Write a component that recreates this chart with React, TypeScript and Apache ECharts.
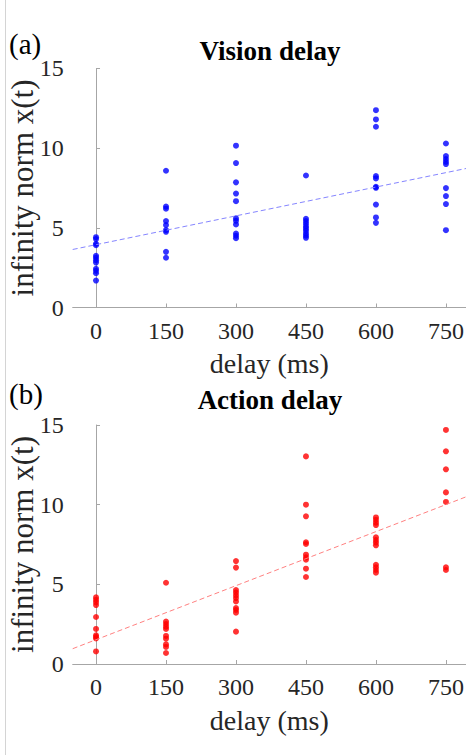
import React, { useEffect, useRef } from "react";
import * as echarts from "echarts";

const delays = [0, 150, 300, 450, 600, 750];
const tickValues = [0, 150, 300, 450, 600, 750];

const vision0 = [4.41, 4.29, 4.0, 3.91, 3.24, 3.12, 2.97, 2.82, 2.43, 2.3, 2.15, 1.69];
const vision150 = [8.58, 6.33, 6.2, 5.42, 5.17, 4.85, 4.75, 3.49, 3.12];
const vision300 = [10.15, 9.06, 7.85, 7.15, 6.67, 5.59, 5.44, 5.21, 4.64, 4.5, 4.35];
const vision450 = [8.28, 5.56, 5.42, 5.27, 5.1, 4.96, 4.81, 4.64, 4.5, 4.37];
const vision600 = [12.38, 11.8, 11.34, 8.24, 8.1, 7.57, 7.51, 6.46, 5.65, 5.31];
const vision750 = [10.29, 9.5, 9.31, 9.14, 9.0, 7.49, 6.99, 6.49, 4.85];

const action0 = [4.18, 4.02, 3.87, 3.7, 2.95, 2.2, 1.8, 1.7, 1.6, 0.79];
const action150 = [5.1, 2.66, 2.51, 2.34, 2.2, 1.76, 1.59, 1.23, 1.07, 0.69];
const action300 = [6.46, 6.05, 4.64, 4.48, 4.31, 4.14, 3.93, 3.51, 3.39, 3.22, 2.03];
const action450 = [13.03, 10.0, 9.27, 7.64, 7.53, 6.86, 6.69, 6.55, 5.98, 5.46];
const action600 = [9.2, 9.04, 8.87, 8.72, 7.95, 7.78, 7.62, 7.45, 6.23, 6.07, 5.9, 5.73];
const action750 = [14.69, 13.35, 12.22, 10.77, 10.17, 6.07, 5.9];

const visionFit = [[-50, 3.64], [793, 8.72]];
const actionFit = [[-50, 0.96], [793, 10.49]];

const visionGroups = [vision0, vision150, vision300, vision450, vision600, vision750];
const actionGroups = [action0, action150, action300, action450, action600, action750];

const toPoints = (groups: number[][]) =>
  groups.flatMap((g, i) => g.map((v) => [delays[i], v]));

const FONT = "Liberation Serif";

function makeAxes(idx: number) {
  const xAxis = {
    type: "value",
    gridIndex: idx,
    min: -50,
    max: 793,
    name: "delay (ms)",
    nameLocation: "middle",
    nameGap: 42,
    nameMoveOverlap: false,
    nameTextStyle: { fontFamily: FONT, fontSize: 28, color: "#262626" },
    axisLine: { show: true, lineStyle: { color: "#a6a6a6", width: 1 } },
    axisTick: { show: true, inside: true, length: 4, customValues: tickValues, lineStyle: { color: "#a6a6a6" } },
    axisLabel: { customValues: tickValues, fontFamily: FONT, fontSize: 24, color: "#262626", margin: 11 },
    splitLine: { show: false },
  };
  const yAxis = {
    type: "value",
    gridIndex: idx,
    min: 0,
    max: 15,
    interval: 5,
    name: "infinity norm x(t)",
    nameLocation: "middle",
    nameGap: 35,
    nameMoveOverlap: false,
    nameTextStyle: { fontFamily: FONT, fontSize: 31, color: "#262626" },
    axisLine: { show: true, lineStyle: { color: "#a6a6a6", width: 1 } },
    axisTick: { show: true, inside: true, length: 4, lineStyle: { color: "#a6a6a6" } },
    axisLabel: { fontFamily: FONT, fontSize: 24, color: "#262626", margin: 9 },
    splitLine: { show: false },
  };
  return { xAxis, yAxis };
}

export default function App() {
  const ref = useRef<HTMLDivElement>(null);
  useEffect(() => {
    if (!ref.current) return;
    const chart = echarts.init(ref.current, null, { renderer: "svg" });
    const a0 = makeAxes(0);
    const a1 = makeAxes(1);
    chart.setOption({
      animation: false,
      backgroundColor: "#ffffff",
      grid: [
        { left: 72.7, top: 68.4, width: 393.3, height: 239.1, containLabel: false, outerBoundsMode: "none" },
        { left: 72.7, top: 425, width: 393.3, height: 239, containLabel: false, outerBoundsMode: "none" },
      ],
      xAxis: [a0.xAxis, a1.xAxis],
      yAxis: [a0.yAxis, a1.yAxis],
      graphic: [
        { type: "line", shape: { x1: 5.5, y1: 0, x2: 5.5, y2: 755 }, style: { stroke: "#d4d4d4", lineWidth: 1 } },
        { type: "text", x: 9, y: 44, style: { text: "(a)", fontFamily: FONT, fontSize: 29, fill: "#000", verticalAlign: "middle", align: "left" } },
        { type: "text", x: 270, y: 51, style: { text: "Vision delay", fontFamily: FONT, fontSize: 27, fontWeight: "bold", fill: "#000", verticalAlign: "middle", align: "center" } },
        { type: "text", x: 9, y: 394, style: { text: "(b)", fontFamily: FONT, fontSize: 29, fill: "#000", verticalAlign: "middle", align: "left" } },
        { type: "text", x: 270, y: 400, style: { text: "Action delay", fontFamily: FONT, fontSize: 27, fontWeight: "bold", fill: "#000", verticalAlign: "middle", align: "center" } },
      ],
      series: [
        {
          type: "line",
          xAxisIndex: 0,
          yAxisIndex: 0,
          data: visionFit,
          showSymbol: false,
          silent: true,
          lineStyle: { color: "#8585ff", width: 1, type: [5, 3] },
        },
        {
          type: "scatter",
          xAxisIndex: 0,
          yAxisIndex: 0,
          data: toPoints(visionGroups),
          symbolSize: 6,
          itemStyle: { color: "#0000ff" },
        },
        {
          type: "line",
          xAxisIndex: 1,
          yAxisIndex: 1,
          data: actionFit,
          showSymbol: false,
          silent: true,
          lineStyle: { color: "#ff8080", width: 1, type: [5, 3] },
        },
        {
          type: "scatter",
          xAxisIndex: 1,
          yAxisIndex: 1,
          data: toPoints(actionGroups),
          symbolSize: 6,
          itemStyle: { color: "#ff0000" },
        },
      ],
    });
    return () => chart.dispose();
  }, []);
  return (
    <div
      ref={ref}
      style={{ position: "absolute", left: 0, top: 0, width: 466, height: 755 }}
    />
  );
}
